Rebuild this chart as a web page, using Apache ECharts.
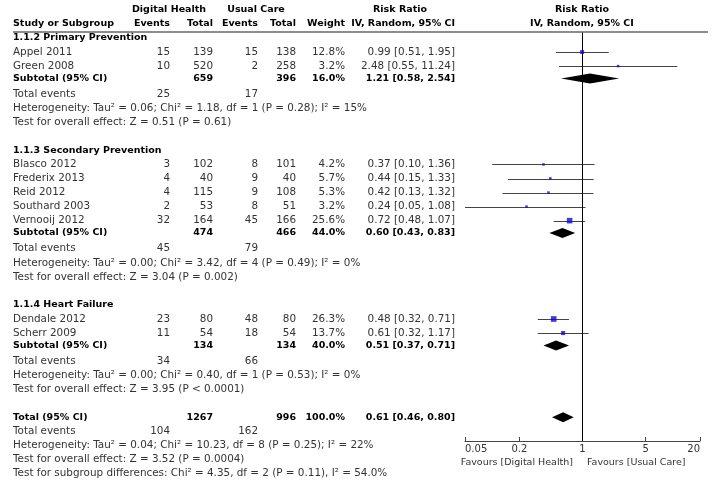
<!DOCTYPE html>
<html><head><meta charset="utf-8">
<script src="https://cdn.jsdelivr.net/npm/echarts@6/dist/echarts.min.js"></script>
<style>html,body{margin:0;padding:0;background:#fff}#c{width:714px;height:483px}</style>
</head><body><div id="c"></div>
<script>
// ---------- DATA ----------
const studies   = ['Appel 2011','Green 2008','Blasco 2012','Frederix 2013','Reid 2012','Southard 2003','Vernooij 2012','Dendale 2012','Scherr 2009'];
const dhEvents  = [15,10,3,4,4,2,32,23,11];
const dhTotal   = [139,520,102,40,115,53,164,80,54];
const ucEvents  = [15,2,8,9,9,8,45,48,18];
const ucTotal   = [138,258,101,40,108,51,166,80,54];
const weights   = [12.8,3.2,4.2,5.7,5.3,3.2,25.6,26.3,13.7];
const rr        = [0.99,2.48,0.37,0.44,0.42,0.24,0.72,0.48,0.61];
const rrLo      = [0.51,0.55,0.10,0.15,0.13,0.05,0.48,0.32,0.32];
const rrHi      = [1.95,11.24,1.36,1.33,1.32,1.08,1.07,0.71,1.17];

const groupNames   = ['1.1.2 Primary Prevention','1.1.3 Secondary Prevention','1.1.4 Heart Failure'];
const groupSizes   = [2,5,2];
const subDhTotal   = [659,474,134];
const subUcTotal   = [396,466,134];
const subWeight    = [16.0,44.0,40.0];
const subRR        = [1.21,0.60,0.51];
const subLo        = [0.58,0.43,0.37];
const subHi        = [2.54,0.83,0.71];
const subDhEvents  = [25,45,34];
const subUcEvents  = [17,79,66];
const subHet = [
  'Heterogeneity: Tau² = 0.06; Chi² = 1.18, df = 1 (P = 0.28); I² = 15%',
  'Heterogeneity: Tau² = 0.00; Chi² = 3.42, df = 4 (P = 0.49); I² = 0%',
  'Heterogeneity: Tau² = 0.00; Chi² = 0.40, df = 1 (P = 0.53); I² = 0%'
];
const subTest = [
  'Test for overall effect: Z = 0.51 (P = 0.61)',
  'Test for overall effect: Z = 3.04 (P = 0.002)',
  'Test for overall effect: Z = 3.95 (P < 0.0001)'
];
const totalCounts  = [1267, 996];      // DH total, UC total
const totalEvents  = [104, 162];
const totalWeight  = 100.0;
const totalRR      = [0.61, 0.46, 0.80]; // est, lo, hi
const totalNotes = [
  'Heterogeneity: Tau² = 0.04; Chi² = 10.23, df = 8 (P = 0.25); I² = 22%',
  'Test for overall effect: Z = 3.52 (P = 0.0004)',
  'Test for subgroup differences: Chi² = 4.35, df = 2 (P = 0.11), I² = 54.0%'
];
const axisTicks = [0.05, 0.2, 1, 5, 20];
const favourLabels = ['Favours [Digital Health]', 'Favours [Usual Care]'];

// ---------- LAYOUT ----------
const W = 714, H = 483;
const ROW0 = 38, ROWH = 14.05;       // pixel y of row 0, row height
const FOREST_TOP = 32, FOREST_BOTTOM = 441, FOREST_LEFT = 465, FOREST_RIGHT = 700;
const COL = {name:13, dhE:170, dhT:213, ucE:258, ucT:296, w:345, rr:455};
const FONT = 'DejaVu Sans';
const FS = 10.4, FSB = 9.5;
const GREY = '#333', BLACK = '#000';

const fmt2 = v => v.toFixed(2);
const rrText = (a,b,c) => fmt2(a) + ' [' + fmt2(b) + ', ' + fmt2(c) + ']';

const cells = [];   // table texts
const ciLines = []; // [lo, hi, row]
const squares = []; // [rr, row, weight]
const diamonds = [];// [lo, est, hi, row]
function cell(x, r, text, align, bold, color){ cells.push({x, r, text:String(text), align, bold:!!bold, color: color || (bold?BLACK:GREY)}); }

// headers
cell(169, -2, 'Digital Health', 'center', true, BLACK);
cell(256, -2, 'Usual Care', 'center', true, BLACK);
cell(400, -2, 'Risk Ratio', 'center', true, BLACK);
cell(COL.name, -1, 'Study or Subgroup', 'left', true, BLACK);
cell(COL.dhE, -1, 'Events', 'right', true, BLACK);
cell(COL.dhT, -1, 'Total', 'right', true, BLACK);
cell(COL.ucE, -1, 'Events', 'right', true, BLACK);
cell(COL.ucT, -1, 'Total', 'right', true, BLACK);
cell(COL.w, -1, 'Weight', 'right', true, BLACK);
cell(COL.rr, -1, 'IV, Random, 95% CI', 'right', true, BLACK);
cell(582, -2, 'Risk Ratio', 'center', true, BLACK);
cell(582, -1, 'IV, Random, 95% CI', 'center', true, BLACK);

let r = 0, si = 0;
for (let g = 0; g < groupNames.length; g++) {
  cell(COL.name, r, groupNames[g], 'left', true); r++;
  for (let k = 0; k < groupSizes[g]; k++, si++, r++) {
    cell(COL.name, r, studies[si], 'left');
    cell(COL.dhE, r, dhEvents[si], 'right');
    cell(COL.dhT, r, dhTotal[si], 'right');
    cell(COL.ucE, r, ucEvents[si], 'right');
    cell(COL.ucT, r, ucTotal[si], 'right');
    cell(COL.w, r, weights[si].toFixed(1) + '%', 'right');
    cell(COL.rr, r, rrText(rr[si], rrLo[si], rrHi[si]), 'right');
    ciLines.push([rrLo[si], rrHi[si], r]);
    squares.push([rr[si], r, weights[si]]);
  }
  const sr = r - 0.12;
  cell(COL.name, sr, 'Subtotal (95% CI)', 'left', true);
  cell(COL.dhT, sr, subDhTotal[g], 'right', true);
  cell(COL.ucT, sr, subUcTotal[g], 'right', true);
  cell(COL.w, sr, subWeight[g].toFixed(1) + '%', 'right', true);
  cell(COL.rr, sr, rrText(subRR[g], subLo[g], subHi[g]), 'right', true);
  diamonds.push([subLo[g], subRR[g], subHi[g], sr]);
  r++;
  cell(COL.name, r, 'Total events', 'left');
  cell(COL.dhE, r, subDhEvents[g], 'right');
  cell(COL.ucE, r, subUcEvents[g], 'right');
  r++;
  cell(COL.name, r, subHet[g], 'left'); r++;
  cell(COL.name, r, subTest[g], 'left'); r++;
  r++; // blank
}
cell(COL.name, r, 'Total (95% CI)', 'left', true);
cell(COL.dhT, r, totalCounts[0], 'right', true);
cell(COL.ucT, r, totalCounts[1], 'right', true);
cell(COL.w, r, totalWeight.toFixed(1) + '%', 'right', true);
cell(COL.rr, r, rrText(totalRR[0], totalRR[1], totalRR[2]), 'right', true);
diamonds.push([totalRR[1], totalRR[0], totalRR[2], r]);
r++;
cell(COL.name, r, 'Total events', 'left');
cell(COL.dhE, r, totalEvents[0], 'right');
cell(COL.ucE, r, totalEvents[1], 'right');
r++;
totalNotes.forEach(t => { cell(COL.name, r, t, 'left'); r++; });

const pxToRow = px => (px - ROW0) / ROWH;

const chart = echarts.init(document.getElementById('c'), null, {renderer:'canvas'});
chart.setOption({
  animation: false,
  backgroundColor: '#fff',
  grid: [
    {left: 0, top: 0, width: W, height: H},
    {left: FOREST_LEFT, top: FOREST_TOP, width: FOREST_RIGHT - FOREST_LEFT, height: FOREST_BOTTOM - FOREST_TOP}
  ],
  xAxis: [
    {gridIndex: 0, type: 'value', min: 0, max: W, show: false},
    {gridIndex: 1, type: 'log', logBase: 10, min: axisTicks[0], max: axisTicks[axisTicks.length-1],
     axisLine: {show: true, onZero: false, lineStyle: {color: '#444', width: 1}},
     axisTick: {show: true, inside: true, length: 4, customValues: axisTicks, lineStyle: {color: '#444'}},
     axisLabel: {show: true, customValues: axisTicks, formatter: v => String(+v.toPrecision(3)), margin: 3,
                 fontFamily: FONT, fontSize: 10, color: GREY, alignMinLabel: 'left', alignMaxLabel: 'right'},
     splitLine: {show: false}}
  ],
  yAxis: [
    {gridIndex: 0, type: 'value', inverse: true, min: pxToRow(0), max: pxToRow(H), show: false},
    {gridIndex: 1, type: 'value', inverse: true, min: pxToRow(FOREST_TOP), max: pxToRow(FOREST_BOTTOM), show: false}
  ],
  graphic: [
    {type: 'line', shape: {x1: 13, y1: FOREST_TOP, x2: 708, y2: FOREST_TOP}, style: {stroke: '#666', lineWidth: 1.5}, z: 10},
    {type: 'text', x: 573, y: 463, style: {text: favourLabels[0], align: 'right', verticalAlign: 'middle', font: '9.5px "' + FONT + '"', fill: GREY}},
    {type: 'text', x: 587, y: 463, style: {text: favourLabels[1], align: 'left', verticalAlign: 'middle', font: '9.5px "' + FONT + '"', fill: GREY}}
  ],
  series: [
    {
      type: 'custom', xAxisIndex: 0, yAxisIndex: 0, coordinateSystem: 'cartesian2d',
      data: cells.map(c => [c.x, c.r]),
      renderItem: (params, api) => {
        const c = cells[params.dataIndex];
        const p = api.coord([c.x, c.r]);
        return {type: 'text', x: p[0], y: p[1],
          style: {text: c.text, align: c.align, verticalAlign: 'middle',
                  font: (c.bold ? 'bold ' + FSB : FS) + 'px "' + FONT + '"', fill: c.color}};
      }
    },
    {
      type: 'custom', xAxisIndex: 1, yAxisIndex: 1,
      data: ciLines,
      renderItem: (params, api) => {
        const a = api.coord([api.value(0), api.value(2)]);
        const b = api.coord([api.value(1), api.value(2)]);
        return {type: 'line', shape: {x1: a[0], y1: Math.round(a[1]) + 0.5, x2: b[0], y2: Math.round(a[1]) + 0.5},
                style: {stroke: '#444', lineWidth: 1}};
      },
      markLine: {silent: true, symbol: 'none', label: {show: false},
        lineStyle: {color: '#000', width: 1, type: 'solid'}, data: [{xAxis: 1}]}
    },
    {
      type: 'scatter', xAxisIndex: 1, yAxisIndex: 1, symbol: 'rect',
      data: squares,
      symbolSize: v => Math.max(2.5, Math.sqrt(v[2]) * 1.1),
      itemStyle: {color: '#0a0adc'}, z: 5
    },
    {
      type: 'custom', xAxisIndex: 1, yAxisIndex: 1,
      data: diamonds,
      renderItem: (params, api) => {
        const y = api.value(3);
        const l = api.coord([api.value(0), y]);
        const m = api.coord([api.value(1), y]);
        const h = api.coord([api.value(2), y]);
        const hh = 5;
        return {type: 'polygon', shape: {points: [[l[0], l[1]], [m[0], m[1] - hh], [h[0], h[1]], [m[0], m[1] + hh]]},
                style: {fill: '#000'}, z2: 10};
      }, z: 6
    }
  ]
});
</script>
</body></html>
